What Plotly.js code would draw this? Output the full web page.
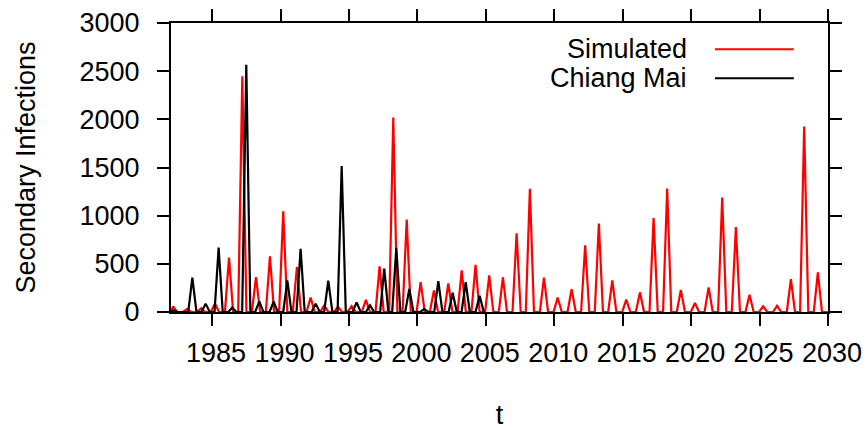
<!DOCTYPE html>
<html>
<head>
<meta charset="utf-8">
<script src="https://cdn.plot.ly/plotly-3.0.1.min.js"></script>
<style>
  html, body { margin: 0; padding: 0; background: #fff; }
  #chart { width: 867px; height: 430px; }
</style>
</head>
<body>
<div id="chart"></div>
<script>
// Simulated epidemic peaks (year of peak, secondary infections at peak)
const simYear = [1982.15, 1983.17, 1984.2, 1985.21, 1986.24, 1987.21, 1988.21, 1989.23, 1990.2, 1991.2,
                 1992.2, 1993.2, 1994.2, 1995.2, 1996.24, 1997.24, 1998.24, 1999.22, 2000.24, 2001.21,
                 2002.26, 2003.24, 2004.25, 2005.25, 2006.25, 2007.25, 2008.22, 2009.25, 2010.25, 2011.27,
                 2012.26, 2013.26, 2014.24, 2015.26, 2016.26, 2017.26, 2018.25, 2019.25, 2020.28, 2021.28,
                 2022.27, 2023.27, 2024.27, 2025.26, 2026.28, 2027.29, 2028.26, 2029.26];
const simCases = [58, 30, 40, 88, 565, 2447, 363, 578, 1045, 467,
                  150, 70, 55, 60, 125, 474, 2018, 959, 311, 225,
                  298, 433, 490, 380, 360, 816, 1278, 358, 150, 237,
                  692, 917, 327, 129, 204, 976, 1281, 228, 93, 256,
                  1189, 881, 178, 59, 64, 341, 1925, 412];

// Chiang Mai reported peaks
const obsYear = [1982.2, 1983.56, 1984.53, 1985.48, 1986.48, 1987.5, 1988.45, 1989.5, 1990.5, 1991.47,
                 1992.57, 1993.49, 1994.47, 1995.56, 1996.54, 1997.58, 1998.46, 1999.41, 2000.5, 2001.53,
                 2002.58, 2003.53, 2004.55];
const obsCases = [15, 357, 87, 668, 45, 2566, 111, 108, 329, 655,
                  87, 325, 1516, 100, 70, 450, 667, 240, 30, 319,
                  200, 311, 168];

// Series span and tick labels
const simSpan = [1982, 2030];
const obsSpan = [1982, 2004.85];
const yearTicks = [1985, 1990, 1995, 2000, 2005, 2010, 2015, 2020, 2025, 2030];
const caseTicks = [0, 500, 1000, 1500, 2000, 2500, 3000];

// Each outbreak is drawn as a narrow spike that returns to the baseline.
const HALF = 0.3;
function spikes(years, cases, span) {
  const x = [span[0]], y = [0];
  years.forEach((t, i) => {
    x.push(Math.max(span[0], t - HALF), t, t + HALF);
    y.push(0, cases[i], 0);
  });
  x.push(span[1]); y.push(0);
  return { x, y };
}

const sim = spikes(simYear, simCases, simSpan);
const obs = spikes(obsYear, obsCases, obsSpan);

const FONT = '"Liberation Sans", Arial, Helvetica, sans-serif';

const traces = [
  { x: sim.x, y: sim.y, type: 'scatter', mode: 'lines', name: 'Simulated',
    line: { color: '#ff0000', width: 2.2 }, showlegend: false },
  { x: obs.x, y: obs.y, type: 'scatter', mode: 'lines', name: 'Chiang Mai',
    line: { color: '#000000', width: 2.2 }, showlegend: false }
];

const axisCommon = {
  showline: true, linecolor: '#000', linewidth: 2,
  mirror: 'ticks', ticks: 'outside', ticklen: 12, tickwidth: 2, tickcolor: '#000',
  showgrid: false, zeroline: false,
  tickfont: { family: FONT, size: 27, color: '#000' }
};

const layout = {
  width: 867, height: 430,
  margin: { l: 171, r: 39, t: 23, b: 118, pad: 0 },
  paper_bgcolor: '#fff', plot_bgcolor: '#fff',
  showlegend: false,
  xaxis: Object.assign({}, axisCommon, {
    range: [1982, 2030], tickvals: yearTicks, ticktext: yearTicks.map(String),
    ticklabelstandoff: 4, ticklabelshift: 4,
    title: { text: 't', font: { family: FONT, size: 27, color: '#000' }, standoff: 61 }
  }),
  yaxis: Object.assign({}, axisCommon, {
    range: [0, 3000], tickvals: caseTicks, ticktext: caseTicks.map(String),
    ticklabelstandoff: 12,
    title: { text: 'Secondary Infections', font: { family: FONT, size: 27, color: '#000' }, standoff: 36 }
  }),
  annotations: [
    { xref: 'paper', yref: 'paper', x: 0.788, y: 0.909, xanchor: 'right', yanchor: 'middle',
      text: 'Simulated', showarrow: false, font: { family: FONT, size: 27, color: '#000' } },
    { xref: 'paper', yref: 'paper', x: 0.788, y: 0.809, xanchor: 'right', yanchor: 'middle',
      text: 'Chiang Mai', showarrow: false, font: { family: FONT, size: 27, color: '#000' } }
  ],
  shapes: [
    { type: 'line', xref: 'paper', yref: 'paper', x0: 0.828, x1: 0.948, y0: 0.909, y1: 0.909,
      line: { color: '#ff0000', width: 2 } },
    { type: 'line', xref: 'paper', yref: 'paper', x0: 0.828, x1: 0.948, y0: 0.809, y1: 0.809,
      line: { color: '#000000', width: 2 } }
  ]
};

Plotly.newPlot('chart', traces, layout, { displayModeBar: false, staticPlot: true });
</script>
</body>
</html>
